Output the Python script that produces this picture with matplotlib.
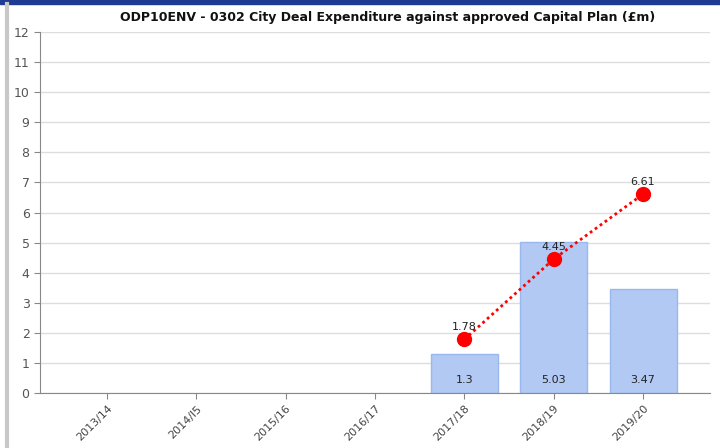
import numpy as np
import matplotlib.pyplot as plt
from matplotlib.lines import Line2D
from matplotlib.patches import Rectangle

years = ['2013/14', '2014/I5', '2015/16', '2016/17', '2017/18', '2018/19', '2019/20']
expenditure = [0, 0, 0, 0, 1.3, 5.03, 3.47]
plan_years = ['2017/18', '2018/19', '2019/20']
plan = [1.78, 4.45, 6.61]

fig = plt.figure(figsize=(7.2, 4.48), dpi=100)
ax = fig.add_axes([40 / 720, 55 / 448, 670 / 720, 361 / 448])

x = np.arange(len(years))
bars = ax.bar(x, expenditure, width=0.75, color='#b1c9f3', edgecolor='#9bb8ee', linewidth=1, zorder=2)
for b, v in zip(bars, expenditure):
    if v == 0:
        b.set_visible(False)
for xi, v in zip(x, expenditure):
    if v > 0:
        ax.text(xi, 0.25, f'{v:g}', ha='center', va='bottom', fontsize=8, color='#222222', zorder=4)

px = [years.index(y) for y in plan_years]
ax.plot(px, plan, color='#ff0000', linestyle=(0, (1, 1.2)), linewidth=2, zorder=3)
ax.plot(px, plan, 'o', color='#ff0000', markersize=10, zorder=3)
for xi, v in zip(px, plan):
    ax.text(xi, v + 0.25, f'{v:g}', ha='center', va='bottom', fontsize=8, color='#222222', zorder=4)

ax.set_xlim(-0.75, 6.75)
ax.set_ylim(0, 12)
ax.set_yticks(range(0, 13))
ax.set_xticks(x)
ax.set_xticklabels(years, rotation=45, ha='right', rotation_mode='anchor', fontsize=8, color='#444444')
ax.tick_params(axis='y', labelsize=9, colors='#555555', length=4, color='#888888')
ax.tick_params(axis='x', length=4, color='#888888')
ax.grid(axis='y', color='#dddddd', linewidth=1, zorder=0)
ax.set_axisbelow(True)
for s in ['top', 'right']:
    ax.spines[s].set_visible(False)
ax.spines['left'].set_color('#888888')
ax.spines['bottom'].set_color('#888888')

fig.text(388 / 720, 1 - 17 / 448, 'ODP10ENV - 0302 City Deal Expenditure against approved Capital Plan (£m)',
         ha='center', va='center', fontsize=9, fontweight='bold', color='#111111')

# dark band at top and grey line at left
fig.add_artist(Rectangle((0, 1 - 4 / 448), 1, 4 / 448, transform=fig.transFigure, color='#1f3a93'))
fig.add_artist(Line2D([7 / 720, 7 / 720], [0, 1 - 4 / 448], transform=fig.transFigure, color='#c8c8c8', linewidth=3))

fig.savefig('out.png', dpi=100)
